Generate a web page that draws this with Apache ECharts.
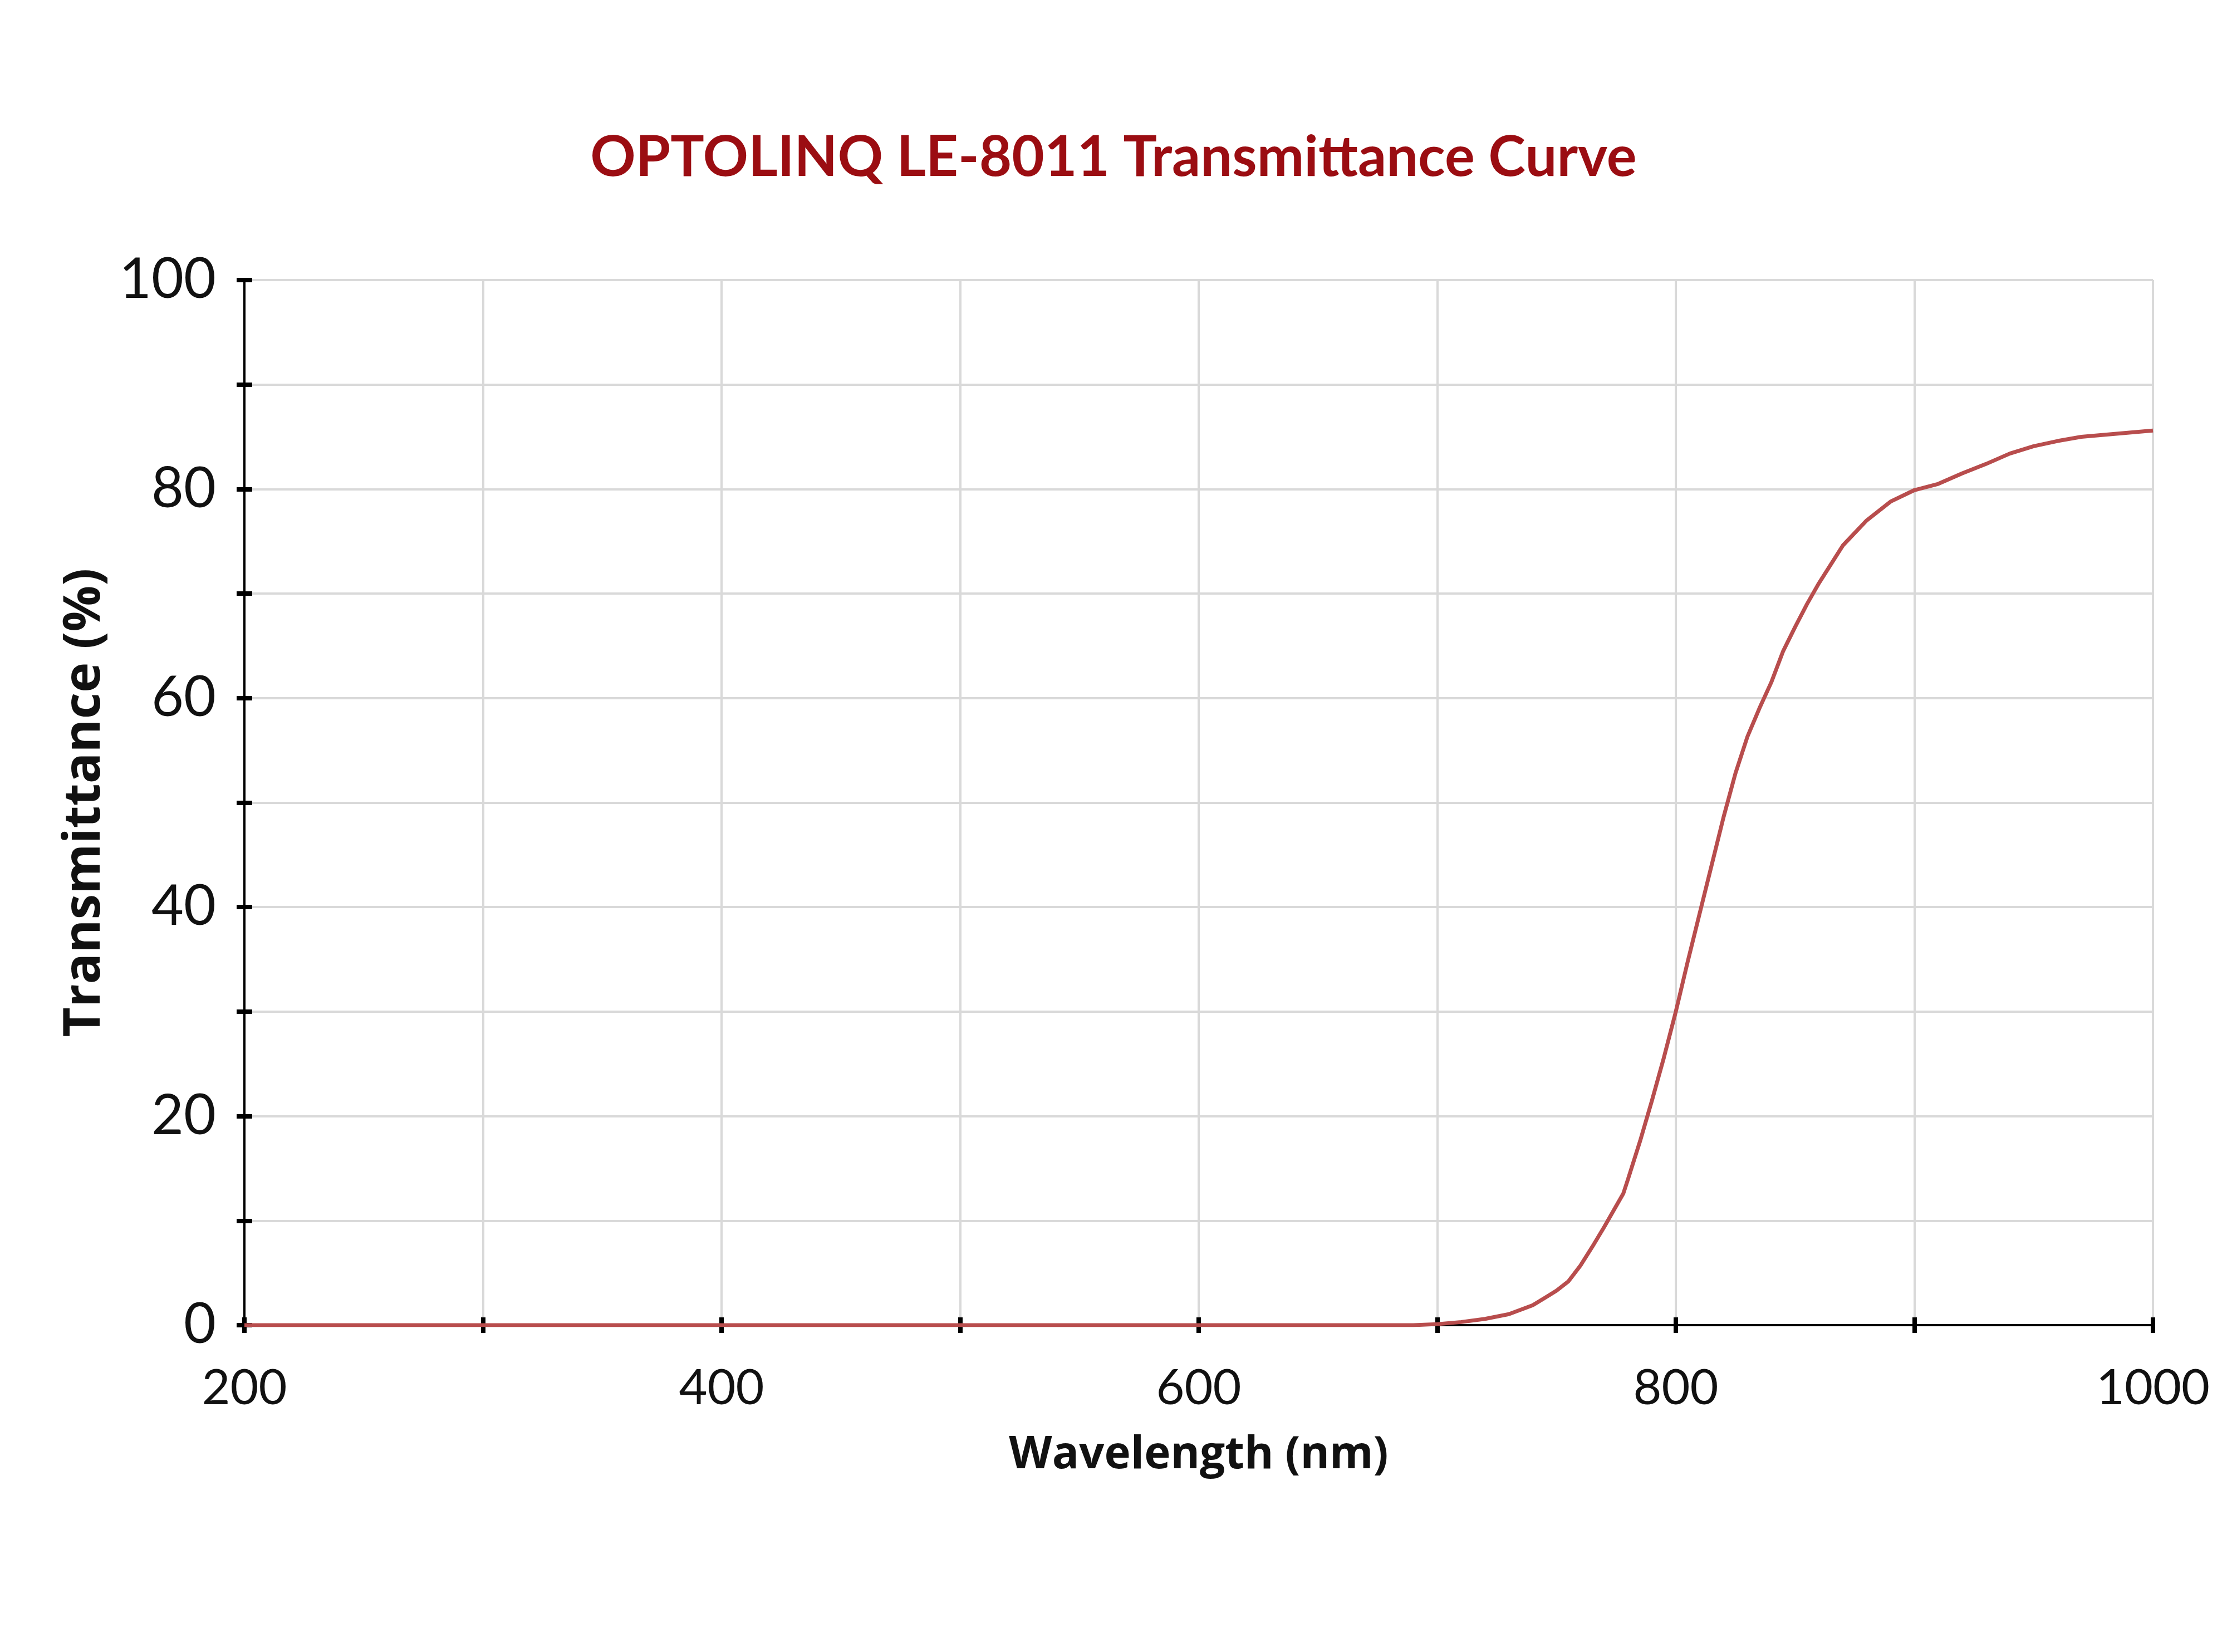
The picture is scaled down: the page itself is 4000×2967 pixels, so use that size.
<!DOCTYPE html>
<html>
<head>
<meta charset="utf-8">
<script src="https://cdn.jsdelivr.net/npm/echarts@6/dist/echarts.min.js"></script>
<style>
html,body{margin:0;padding:0;background:#fff;}
#chart{width:4000px;height:2967px;}
</style>
</head>
<body>
<div id="chart"></div>
<script>
const titleText = 'OPTOLINQ LE-8011 Transmittance Curve';
const xAxisName = 'Wavelength (nm)';
const yAxisName = 'Transmittance (%)';
const wavelengths = [200, 300, 400, 500, 600, 650, 690, 700, 710, 720, 730, 740, 745, 750, 755, 760, 765, 770, 775, 778, 780, 785, 790, 795, 800, 805, 810, 815, 820, 825, 830, 835, 840, 845, 850, 855, 860, 870, 880, 890, 900, 910, 920, 930, 940, 950, 960, 970, 980, 990, 1000];
const transmittance = [0, 0, 0, 0, 0, 0, 0, 0.1, 0.3, 0.6, 1.05, 1.9, 2.6, 3.3, 4.2, 5.7, 7.5, 9.4, 11.4, 12.6, 14, 17.6, 21.5, 25.6, 30, 34.8, 39.4, 44, 48.6, 52.8, 56.3, 59, 61.5, 64.5, 66.8, 69, 71, 74.6, 77, 78.8, 79.9, 80.5, 81.5, 82.4, 83.4, 84.1, 84.6, 85, 85.2, 85.4, 85.6];
const xTickLabels = [200, 400, 600, 800, 1000];
const yTickLabels = [0, 20, 40, 60, 80, 100];

const points = wavelengths.map((w, i) => [w, transmittance[i]]);
const labelFont = 'Lato, "Noto Sans", sans-serif';
const nameFont = '"Open Sans", Lato, sans-serif';

const chart = echarts.init(document.getElementById('chart'), null, {renderer: 'canvas'});
chart.setOption({
  backgroundColor: '#ffffff',
  animation: false,
  title: {
    text: titleText,
    left: 'center',
    top: 228,
    textStyle: {color: '#9b0d12', fontSize: 101, fontWeight: 'bold', fontFamily: labelFont}
  },
  grid: {left: 439, right: 133, top: 503, bottom: 587, containLabel: false},
  xAxis: [{
    type: 'value', min: 200, max: 1000, interval: 100,
    name: xAxisName, nameLocation: 'middle', nameGap: 194,
    nameTextStyle: {fontSize: 80, fontWeight: 'bold', color: '#111', fontFamily: nameFont},
    axisLine: {show: true, onZero: false, lineStyle: {color: '#000', width: 4}},
    axisTick: {show: true, inside: false, length: 14, lineStyle: {color: '#000', width: 8}},
    axisLabel: {
      fontSize: 88, color: '#111', fontFamily: labelFont, margin: 70,
      formatter: v => (xTickLabels.indexOf(v) >= 0 ? String(v) : '')
    },
    splitLine: {show: true, lineStyle: {color: '#d9d9d9', width: 4}}
  }, {
    type: 'value', min: 200, max: 1000, interval: 100, position: 'bottom', gridIndex: 0,
    axisLine: {show: false}, axisLabel: {show: false}, splitLine: {show: false},
    axisTick: {show: true, inside: true, length: 14, lineStyle: {color: '#000', width: 8}}
  }],
  yAxis: [{
    type: 'value', min: 0, max: 100, interval: 10,
    name: yAxisName, nameLocation: 'middle', nameGap: 240, nameRotate: 90,
    nameTextStyle: {fontSize: 92, fontWeight: 'bold', color: '#111', fontFamily: nameFont},
    axisLine: {show: true, onZero: false, lineStyle: {color: '#000', width: 4}},
    axisTick: {show: true, inside: false, length: 14, lineStyle: {color: '#000', width: 8}},
    axisLabel: {
      fontSize: 100, color: '#111', fontFamily: labelFont, margin: 51,
      formatter: v => (yTickLabels.indexOf(v) >= 0 ? String(v) : '')
    },
    splitLine: {show: true, lineStyle: {color: '#d9d9d9', width: 4}}
  }, {
    type: 'value', min: 0, max: 100, interval: 10, position: 'left', gridIndex: 0,
    axisLine: {show: false}, axisLabel: {show: false}, splitLine: {show: false},
    axisTick: {show: true, inside: true, length: 14, lineStyle: {color: '#000', width: 8}}
  }],
  series: [{
    type: 'line', xAxisIndex: 0, yAxisIndex: 0,
    data: points, showSymbol: false, smooth: false,
    lineStyle: {color: '#b84d4d', width: 7},
    z: 5
  }]
});
</script>
</body>
</html>
